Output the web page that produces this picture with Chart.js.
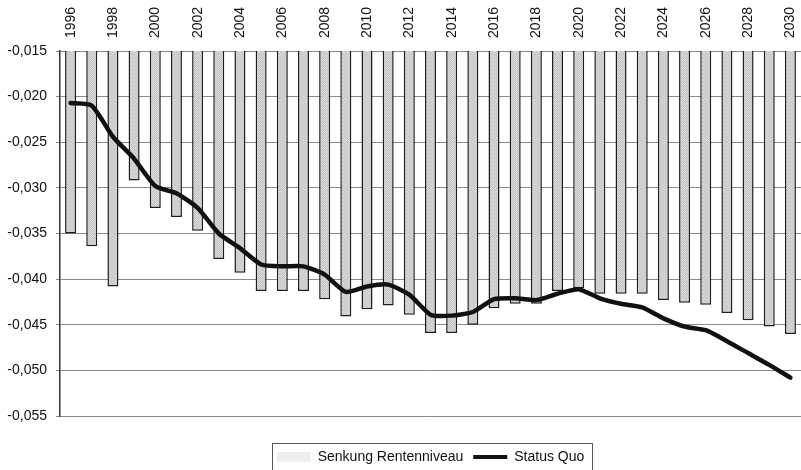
<!DOCTYPE html>
<html>
<head>
<meta charset="utf-8">
<script src="https://cdn.jsdelivr.net/npm/chart.js@4/dist/chart.umd.min.js"></script>
<style>
  html, body { margin: 0; padding: 0; background: #fff; overflow: hidden; }
  #wrap { position: absolute; left: 0; top: 0; width: 801px; height: 474px; }
</style>
</head>
<body>
<div id="wrap"><canvas id="chart"></canvas></div>
<script>
"use strict";

// ── data ───────────────────────────────────────────────────────────────────────
const YEARS = [
  "1996","1997","1998","1999","2000","2001","2002","2003","2004","2005",
  "2006","2007","2008","2009","2010","2011","2012","2013","2014","2015",
  "2016","2017","2018","2019","2020","2021","2022","2023","2024","2025",
  "2026","2027","2028","2029","2030",
];

const SENKUNG = [
  -0.0350, -0.0364, -0.0408, -0.0292, -0.0322, -0.0332, -0.0347, -0.0378, -0.0393, -0.0413,
  -0.0413, -0.0413, -0.0422, -0.0441, -0.0433, -0.0429, -0.0439, -0.0459, -0.0459, -0.0450,
  -0.0432, -0.0427, -0.0427, -0.0413, -0.0410, -0.0416, -0.0416, -0.0416, -0.0423, -0.0426,
  -0.0428, -0.0437, -0.0445, -0.0452, -0.0460,
];

const STATUS_QUO = [
  -0.0207, -0.0210, -0.0244, -0.0268, -0.0298, -0.0306, -0.0322, -0.0350, -0.0366, -0.0384,
  -0.0386, -0.0386, -0.0395, -0.0414, -0.0408, -0.0406, -0.0417, -0.0439, -0.0440, -0.0436,
  -0.0422, -0.0421, -0.0423, -0.0416, -0.0411, -0.0421, -0.0427, -0.0431, -0.0443, -0.0452,
  -0.0456, -0.0468, -0.0481, -0.0494, -0.0508,
];

const Y_MIN = -0.055;
const Y_MAX = -0.015;
const Y_STEP = 0.005;

const FONT = "'Liberation Sans', Arial, sans-serif";

// ── grainy grey fill for the bars ──────────────────────────────────────────────
function grainPattern() {
  const shades = [
    0xd4, 0xc4, 0xdc, 0xcc,
    0xc8, 0xd8, 0xc0, 0xd6,
    0xdc, 0xca, 0xd2, 0xc2,
    0xc6, 0xd4, 0xce, 0xda,
  ];
  const c = document.createElement("canvas");
  c.width = 4; c.height = 4;
  const g = c.getContext("2d");
  shades.forEach((s, i) => {
    g.fillStyle = `rgb(${s},${s},${s})`;
    g.fillRect(i % 4, Math.floor(i / 4), 1, 1);
  });
  return g.createPattern(c, "repeat");
}

// frame drawn round the legend entries
const legendFrame = {
  id: "legendFrame",
  afterDraw(chart) {
    const boxes = chart.legend && chart.legend.legendHitBoxes;
    if (!boxes || !boxes.length) return;
    const left = Math.min(...boxes.map(b => b.left)) - 5;
    const right = Math.max(...boxes.map(b => b.left + b.width)) + 7;
    const top = Math.min(...boxes.map(b => b.top)) - 7;
    const ctx = chart.ctx;
    ctx.save();
    ctx.strokeStyle = "#555";
    ctx.lineWidth = 1;
    ctx.strokeRect(Math.round(left) + 0.5, Math.round(top) + 0.5, Math.round(right - left), 40);
    ctx.restore();
  },
};

const fmt = v => v.toFixed(3).replace(".", ",");

// ── chart ──────────────────────────────────────────────────────────────────────
new Chart(document.getElementById("chart"), {
  data: {
    labels: YEARS,
    datasets: [
      {
        type: "bar",
        label: "Senkung Rentenniveau",
        data: SENKUNG,
        backgroundColor: grainPattern(),
        borderColor: "#1c1c1c",
        borderWidth: 1.5,
        borderSkipped: false,
        barPercentage: 0.52,
        categoryPercentage: 1,
        order: 1,
      },
      {
        type: "line",
        label: "Status Quo",
        data: STATUS_QUO,
        borderColor: "#111",
        backgroundColor: "#111",
        borderWidth: 4.5,
        tension: 0.2,
        pointRadius: 0,
        borderCapStyle: "round",
        borderJoinStyle: "round",
        order: 0,
      },
    ],
  },
  options: {
    responsive: true,
    maintainAspectRatio: false,
    animation: false,
    layout: { padding: { top: 0, right: -6, bottom: 0, left: 0 } },
    plugins: {
      tooltip: { enabled: false },
      legend: {
        position: "bottom",
        fullSize: false,
        title: { display: true, text: "", font: { size: 10, lineHeight: 1 }, padding: { top: 14, bottom: 0 } },
        labels: {
          color: "#111",
          font: { family: FONT, size: 14 },
          padding: 10,
          usePointStyle: true,
          pointStyleWidth: 34,
          boxHeight: 10,
          generateLabels(chart) {
            return chart.data.datasets.map((ds, i) => ({
              text: ds.label,
              datasetIndex: i,
              pointStyle: ds.type === "line" ? "line" : "rect",
              fillStyle: ds.type === "line" ? "#111" : "#eeeeee",
              strokeStyle: ds.type === "line" ? "#111" : "rgba(0,0,0,0)",
              lineWidth: ds.type === "line" ? 4 : 0,
              fontColor: "#111",
              hidden: false,
            }));
          },
        },
      },
    },
    scales: {
      x: {
        position: "top",
        grid: { display: false, drawTicks: false },
        border: { display: false },
        ticks: {
          autoSkip: false,
          maxRotation: 90,
          minRotation: 90,
          padding: 13,
          labelOffset: 17,
          color: "#111",
          font: { family: FONT, size: 14 },
          callback: (v, i) => (i % 2 === 0 ? YEARS[i] : ""),
        },
        afterFit: s => {
          s.height = 51;
          s.paddingLeft = 0;
          s.paddingRight = 0;
        },
      },
      y: {
        min: Y_MIN,
        max: Y_MAX,
        grid: { color: "#8a8a8a", lineWidth: 1, tickLength: 4 },
        border: { color: "#333", width: 1.5 },
        ticks: {
          stepSize: Y_STEP,
          padding: 9,
          color: "#111",
          font: { family: FONT, size: 14 },
          callback: v => fmt(v),
        },
        afterFit: s => { s.width = 60; },
      },
    },
  },
  plugins: [legendFrame],
});
</script>
</body>
</html>
